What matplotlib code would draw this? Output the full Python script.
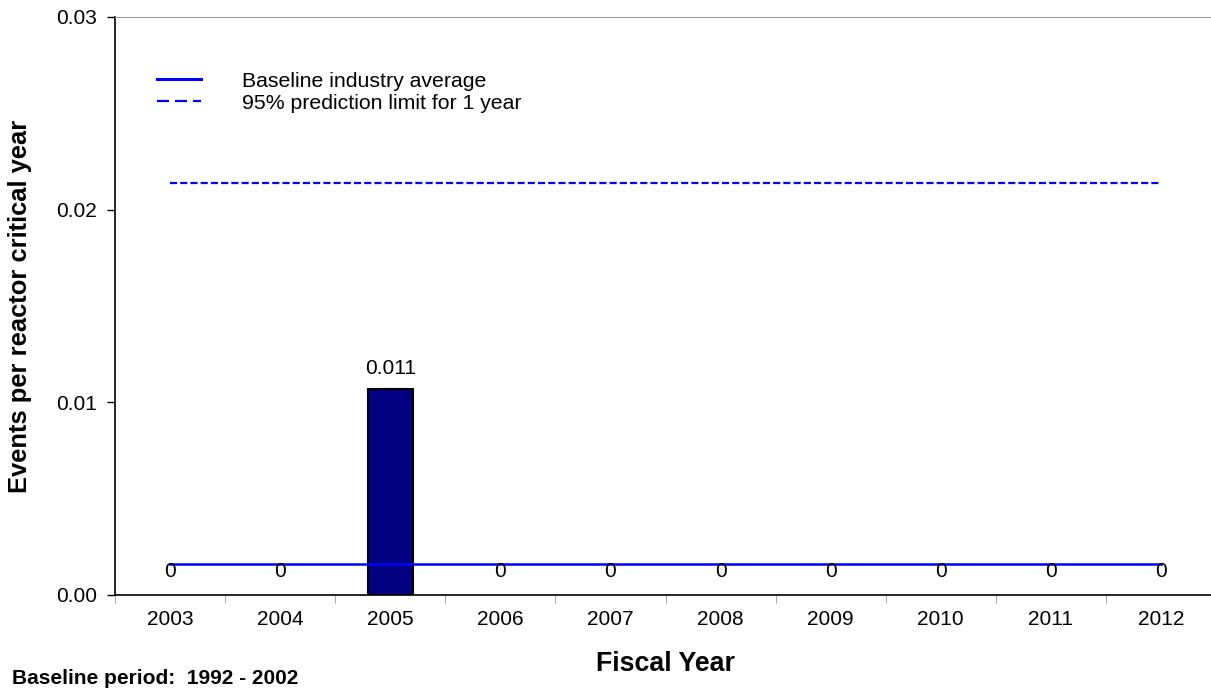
import numpy as np
import matplotlib
matplotlib.use('Agg')
import matplotlib.pyplot as plt

plt.rcParams['font.family'] = ['Liberation Sans', 'DejaVu Sans']

# Data
years = ['2003', '2004', '2005', '2006', '2007', '2008', '2009', '2010', '2011', '2012']
rates = [0, 0, 0.0107, 0, 0, 0, 0, 0, 0, 0]
baseline_avg = 0.0016
pred_limit = 0.0214

x = np.arange(len(years))

fig = plt.figure(figsize=(12.11, 6.92), dpi=100)
ax = fig.add_axes([115/1211, 97/692, 1101/1211, 578/692])

# no outline for empty bars
edge_w = [1.5 if v > 0 else 0 for v in rates]
ax.bar(x, rates, width=0.41, color='#000080', edgecolor='black', linewidth=edge_w, zorder=2)
ax.plot([x[0], x[-1]], [baseline_avg, baseline_avg], color='#0000FF', lw=1.8,
        label='Baseline industry average', zorder=3)
ax.plot([x[0], x[-1]], [pred_limit, pred_limit], color='#0000FF', lw=1.6,
        dashes=(3.2, 1.4), label='95% prediction limit for 1 year', zorder=3)

for xi, v in zip(x, rates):
    lab = '0' if v == 0 else '{:.3f}'.format(v)
    ax.annotate(lab, (xi, v), xytext=(0, 10 if v == 0 else 8), textcoords='offset points',
                ha='center', va='bottom', fontsize=15, zorder=4)

ax.set_xlim(-0.5, 9.5)
ax.set_ylim(0, 0.03)
ax.set_yticks([0, 0.01, 0.02, 0.03])
ax.set_yticklabels(['0.00', '0.01', '0.02', '0.03'], fontsize=15)
ax.tick_params(axis='y', direction='out', length=6, width=1, pad=7)
ax.yaxis.get_major_ticks()[-1].tick1line.set_color('#999999')

ax.set_xticks(x)
ax.set_xticklabels(years, fontsize=15)
ax.tick_params(axis='x', which='major', length=0, pad=11)
ax.set_xticks(np.arange(-0.5, 10, 1), minor=True)
ax.tick_params(axis='x', which='minor', length=6, color='#999999', direction='out')

ax.spines['right'].set_visible(False)
ax.spines['top'].set_color('#999999')
ax.spines['left'].set_linewidth(1.2)
ax.spines['bottom'].set_linewidth(1.2)

ax.set_ylabel('Events per reactor critical year', fontsize=18.4, fontweight='bold', labelpad=17)
ax.set_xlabel('Fiscal Year', fontsize=19.3, fontweight='bold', va='top')
ax.xaxis.set_label_coords(0.5, -0.097)

leg = ax.legend(loc='upper left', bbox_to_anchor=(0.038, 0.905), frameon=False,
                fontsize=15.3, handlelength=2.07, handletextpad=1.93, labelspacing=0.14,
                borderpad=0, borderaxespad=0)
leg.get_lines()[0].set_linewidth(2.2)
leg.get_lines()[1].set_dashes((5.4, 2.7))

fig.text(12/1211, 1 - 678/692, 'Baseline period:  1992 - 2002', fontsize=15,
         fontweight='bold', ha='left', va='center')

fig.savefig('out.png', dpi=100)
